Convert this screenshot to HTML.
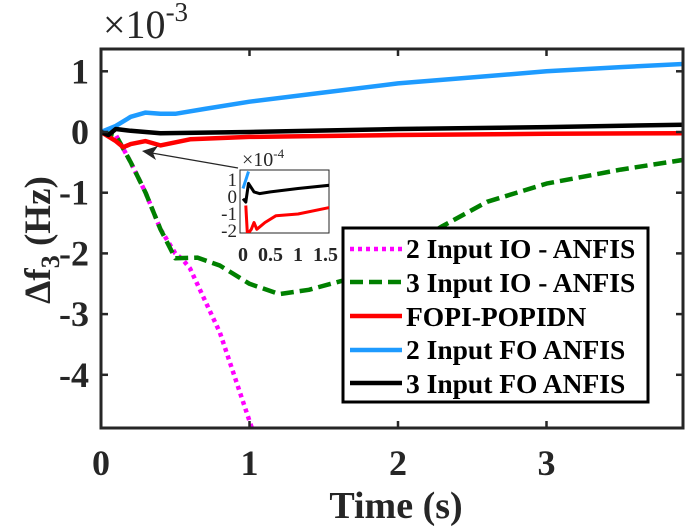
<!DOCTYPE html>
<html><head><meta charset="utf-8"><style>
body{margin:0;background:#fff}
svg{display:block;font-family:"Liberation Serif",serif;font-weight:bold}
</style></head><body>
<svg width="685" height="530" id="svg" style="position:absolute;left:0;top:0">
<g id="main"></g>
</svg>
<script>
const xTicks=[0,1,2,3];
const yTicks=[1,0,-1,-2,-3,-4];
const tBlue=[0,0.1,0.2,0.3,0.4,0.5,0.7,1,1.5,2,2.5,3,3.5,3.92];
const vBlue=[0,0.1,0.25,0.32,0.3,0.3,0.38,0.5,0.65,0.8,0.9,1.0,1.07,1.12];
const tBlack=[0,0.05,0.1,0.2,0.4,1,2,3,3.92];
const vBlack=[0,-0.05,0.05,0.02,-0.02,0,0.05,0.08,0.12];
const tRed=[0,0.1,0.15,0.2,0.3,0.4,0.6,1,2,3,3.92];
const vRed=[0,-0.15,-0.25,-0.2,-0.15,-0.22,-0.12,-0.08,-0.05,-0.03,-0.02];
const tGreen=[0,0.1,0.2,0.3,0.4,0.5,0.65,0.8,1.0,1.2,1.4,1.7,2.0,2.3,2.6,3,3.5,3.92];
const vGreen=[0,-0.05,-0.5,-1.0,-1.6,-2.08,-2.07,-2.2,-2.5,-2.67,-2.6,-2.4,-2.0,-1.55,-1.15,-0.85,-0.62,-0.46];
const tMag=[0,0.1,0.2,0.3,0.4,0.5,0.55,0.6,0.8,1.02];
const vMag=[0,-0.05,-0.5,-1.0,-1.6,-2.0,-2.1,-2.25,-3.3,-4.91];
const inXTicks=[0,0.5,1,1.5];
const inYTicks=[1,0,-1,-2];
const itBlue=[0,0.05,0.1];
const ivBlue=[0.5,1.0,1.5];
const itBlack=[0,0.05,0.1,0.2,0.3,0.5,1,1.6];
const ivBlack=[-0.1,-0.3,0.8,0.3,0.2,0.3,0.5,0.7];
const itRed=[0.05,0.08,0.15,0.2,0.25,0.4,0.6,1,1.6];
const ivRed=[-0.5,-2.2,-1.9,-1.5,-1.9,-1.5,-1.1,-1.0,-0.6];

const NS="http://www.w3.org/2000/svg";
const g=document.getElementById('main');
function el(tag,attrs,parent){const e=document.createElementNS(NS,tag);for(const k in attrs)e.setAttribute(k,attrs[k]);(parent||g).appendChild(e);return e;}
const L=101,R=683,T=49,B=428;
const X=v=>L+v*148.5, Y=v=>132-v*60.7;
const cp=el('clipPath',{id:'c1'});el('rect',{x:L,y:T,width:R-L,height:B-T},cp);
function line(ts,vs,xf,yf,color,w,dash,clip){
  const p=el('path',{d:ts.map((t,i)=>(i?'L':'M')+xf(t).toFixed(1)+','+yf(vs[i]).toFixed(1)).join(''),fill:'none',stroke:color,'stroke-width':w,'stroke-linejoin':'round','clip-path':'url(#'+clip+')'});
  if(dash)p.setAttribute('stroke-dasharray',dash);
  return p;
}
let p;
p=line(tMag,vMag,X,Y,'#ff00ff',4.5,'4,4','c1');


p=line(tGreen,vGreen,X,Y,'#008000',4.5,'13,6','c1');


p=line(tRed,vRed,X,Y,'#ff0000',4.5,null,'c1');


p=line(tBlue,vBlue,X,Y,'#1e9bff',4.5,null,'c1');


p=line(tBlack,vBlack,X,Y,'#000',4.5,null,'c1');


el('rect',{x:L,y:T,width:R-L,height:B-T,fill:'none',stroke:'#262626','stroke-width':3,});
xTicks.forEach(v=>{const x=X(v);el('line',{x1:x,x2:x,y1:B,y2:B-7,stroke:'#262626','stroke-width':2.5});el('line',{x1:x,x2:x,y1:T,y2:T+7,stroke:'#262626','stroke-width':2.5});
 const t=el('text',{x:x,y:B+47,'text-anchor':'middle','font-size':36,fill:'#262626'});t.textContent=v;
 });
yTicks.forEach(v=>{const y=Y(v);el('line',{x1:L,x2:L+7,y1:y,y2:y,stroke:'#262626','stroke-width':2.5});el('line',{x1:R,x2:R-7,y1:y,y2:y,stroke:'#262626','stroke-width':2.5});
 const t=el('text',{x:L-12,y:y+12,'text-anchor':'end','font-size':36,fill:'#262626'});t.textContent=v;
 });
// inset
const iL=240,iR=329,iT=170,iB=233;
const IX=v=>243+v*55, IY=v=>197-v*17;
const cp2=el('clipPath',{id:'c2'});el('rect',{x:iL,y:iT,width:iR-iL,height:iB-iT},cp2);
el('rect',{x:iL,y:iT,width:iR-iL,height:iB-iT,fill:'#fff',stroke:'#262626','stroke-width':1,});
p=line(itRed,ivRed,IX,IY,'#ff0000',3,null,'c2');


p=line(itBlue,ivBlue,IX,IY,'#1e9bff',3,null,'c2');


p=line(itBlack,ivBlack,IX,IY,'#000',3,null,'c2');


inXTicks.forEach(v=>{const t=el('text',{x:IX(v),y:iB+28,'text-anchor':'middle','font-size':20,fill:'#262626'});t.textContent=v;
 });
inYTicks.forEach(v=>{const t=el('text',{x:iL-3,y:IY(v)+6,'text-anchor':'end','font-size':19,'font-weight':'normal',fill:'#262626'});t.textContent=v;
 });
</script>
<svg style="position:absolute;left:0;top:0" width="685" height="530">
<text x="103" y="38" font-size="40" font-weight="normal" fill="#262626">×10<tspan font-size="27" dy="-17">-3</tspan></text>
<text x="242" y="166" font-size="20" font-weight="normal" fill="#262626">×10<tspan font-size="13" dy="-8">-4</tspan></text>
<g>
<line x1="238" y1="168" x2="146" y2="152" stroke="#262626" stroke-width="1.2"/>
<path d="M142,151 L158,146 L153,153 L156,160 Z" fill="#262626"/>
</g>
<text x="396" y="518" text-anchor="middle" font-size="38" fill="#262626">Time (s)</text>
<text transform="translate(50,240) rotate(-90)" text-anchor="middle" font-size="37" fill="#262626">Δf<tspan font-size="26" dy="9">3</tspan><tspan dy="-9"> (Hz)</tspan></text>
<g>
<rect x="343" y="228" width="305" height="174" fill="#fff" stroke="#000" stroke-width="3"/>
<g font-size="27.5" fill="#000">
<line x1="350" y1="249" x2="402" y2="249" stroke="#ff00ff" stroke-width="4.5" stroke-dasharray="4,4"/><text x="406" y="258">2 Input IO - ANFIS</text>
<line x1="350" y1="282" x2="402" y2="282" stroke="#008000" stroke-width="4.5" stroke-dasharray="13,6"/><text x="406" y="292">3 Input IO - ANFIS</text>
<line x1="350" y1="316" x2="402" y2="316" stroke="#ff0000" stroke-width="4.5"/><text x="406" y="326">FOPI-POPIDN</text>
<line x1="350" y1="350" x2="402" y2="350" stroke="#1e9bff" stroke-width="4.5"/><text x="406" y="359">2 Input FO ANFIS</text>
<line x1="350" y1="383" x2="402" y2="383" stroke="#000" stroke-width="4.5"/><text x="406" y="393">3 Input FO ANFIS</text>
</g></g>
</svg>
</body></html>
